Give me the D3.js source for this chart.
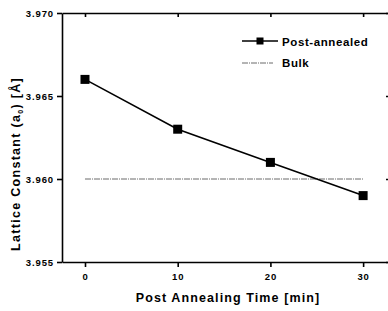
<!DOCTYPE html>
<html>
<head>
<meta charset="utf-8">
<style>
body { margin: 0; background: #fff; }
svg { font-family: "Liberation Sans", Arial, sans-serif; font-weight: bold; }
.axis path, .axis line { stroke: #000; stroke-width: 1.6; }
.axis text { font-size: 9.5px; fill: #000; font-weight: bold; letter-spacing: 0.9px; }
</style>
</head>
<body>
<script src="https://cdn.jsdelivr.net/npm/d3@7"></script>
<script>

var times = [0, 10, 20, 30];
var lattice = [3.966, 3.963, 3.961, 3.959];
var bulkValue = 3.960;
var xTicks = [0, 10, 20, 30];
var yTicks = [3.955, 3.960, 3.965, 3.970];

var width = 388, height = 311;
var mLeft = 62, mRight = 390, mTop = 13, mBottom = 262;

var x = d3.scaleLinear().domain([-2.48, 32.9]).range([mLeft, mRight]);
var y = d3.scaleLinear().domain([3.955, 3.970]).range([mBottom, mTop]);

var svg = d3.select("body").append("svg")
    .attr("width", width)
    .attr("height", height);

// bottom + left axes
svg.append("g")
    .attr("class", "axis")
    .attr("transform", "translate(0," + mBottom + ")")
    .call(d3.axisBottom(x).tickValues(xTicks).tickSize(5).tickSizeOuter(0).tickPadding(6));

svg.append("g")
    .attr("class", "axis")
    .attr("transform", "translate(" + mLeft + ",0)")
    .call(d3.axisLeft(y).tickValues(yTicks).tickFormat(d3.format(".3f")).tickSize(5).tickSizeOuter(0).tickPadding(3));

// top + right mirror axes, ticks inward, no labels
svg.append("g")
    .attr("class", "axis")
    .attr("transform", "translate(0," + mTop + ")")
    .call(d3.axisBottom(x).tickValues(xTicks).tickSize(4).tickSizeOuter(0).tickFormat(""));

svg.append("g")
    .attr("class", "axis")
    .attr("transform", "translate(" + mRight + ",0)")
    .call(d3.axisRight(y).tickValues(yTicks).tickSize(-4).tickSizeOuter(0).tickFormat(""));

// bulk reference line
svg.append("line")
    .attr("x1", x(0)).attr("x2", x(30))
    .attr("y1", y(bulkValue)).attr("y2", y(bulkValue))
    .attr("stroke", "#444")
    .attr("stroke-width", 0.8)
    .attr("stroke-dasharray", "6,1,1,1");

// post-annealed series
var pts = times.map(function(t, i) { return [t, lattice[i]]; });

svg.append("path")
    .datum(pts)
    .attr("fill", "none")
    .attr("stroke", "#000")
    .attr("stroke-width", 1.6)
    .attr("d", d3.line().x(function(d) { return x(d[0]); }).y(function(d) { return y(d[1]); }));

svg.selectAll(".pt")
    .data(pts)
    .enter().append("rect")
    .attr("class", "pt")
    .attr("x", function(d) { return x(d[0]) - 4.5; })
    .attr("y", function(d) { return y(d[1]) - 4.5; })
    .attr("width", 9)
    .attr("height", 9)
    .attr("fill", "#000");

// legend
var lg = svg.append("g").attr("transform", "translate(242,41)");
lg.append("line").attr("x1", 0).attr("x2", 36).attr("y1", 0).attr("y2", 0)
    .attr("stroke", "#000").attr("stroke-width", 1.6);
lg.append("rect").attr("x", 14.5).attr("y", -3.5).attr("width", 7).attr("height", 7).attr("fill", "#000");
lg.append("text").attr("x", 40).attr("y", 5).attr("font-size", "11.5px")
    .attr("letter-spacing", "0.6px").text("Post-annealed");
lg.append("line").attr("x1", 0).attr("x2", 31).attr("y1", 22).attr("y2", 22)
    .attr("stroke", "#444").attr("stroke-width", 0.8).attr("stroke-dasharray", "6,1,1,1");
lg.append("text").attr("x", 40).attr("y", 26).attr("font-size", "11.5px")
    .attr("letter-spacing", "0.6px").text("Bulk");

// axis titles
svg.append("text")
    .attr("x", 228).attr("y", 302)
    .attr("text-anchor", "middle")
    .attr("font-size", "12.5px")
    .attr("letter-spacing", "1.1px")
    .text("Post Annealing Time [min]");

var yt = svg.append("text")
    .attr("transform", "translate(20,164) rotate(-90)")
    .attr("text-anchor", "middle")
    .attr("font-size", "12.5px")
    .attr("letter-spacing", "1.3px");
yt.append("tspan").text("Lattice Constant (a");
yt.append("tspan").attr("font-size", "7px").attr("dy", 3).text("0");
yt.append("tspan").attr("dy", -3).text(") [Å]");

</script>
</body>
</html>
